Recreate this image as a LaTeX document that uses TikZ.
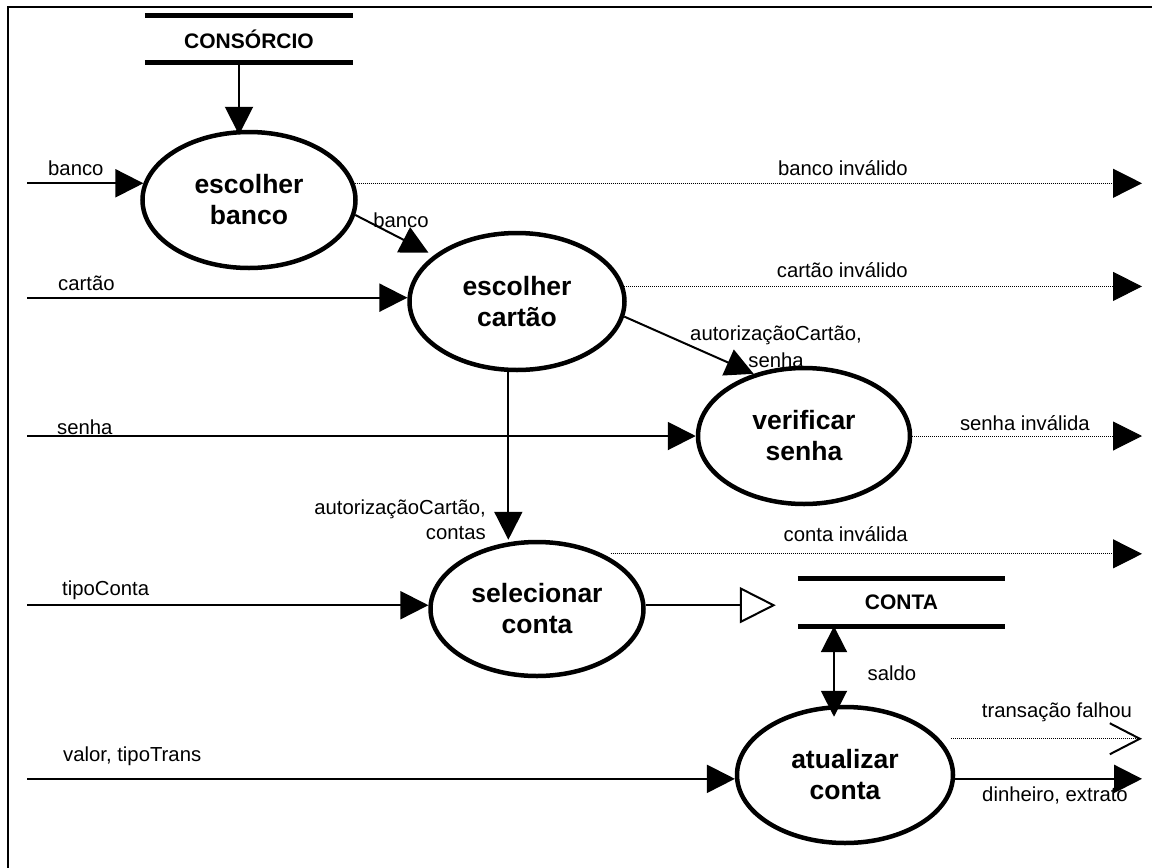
\documentclass[tikz,border=0pt]{standalone}
\usepackage{fontspec}
\setmainfont{Liberation Sans}
\usetikzlibrary{arrows.meta,shapes.geometric}

\begin{document}
\begin{tikzpicture}[x=1pt,y=-1pt,
  proc/.style={ellipse, draw, line width=4.5pt, inner sep=0pt,
    minimum width=213pt, minimum height=136pt, align=center,
    font=\fontsize{26.5}{31}\selectfont\bfseries},
  store/.style={inner sep=0pt, minimum width=208pt, minimum height=47pt,
    font=\fontsize{21}{25}\selectfont\bfseries},
  storeline/.style={line width=5pt},
  flow/.style={line width=2pt, -{Triangle[length=28pt,width=28pt]}},
  both/.style={line width=2pt, {Triangle[length=26pt,width=26pt]}-{Triangle[length=26pt,width=26pt]}},
  reject/.style={line width=1pt, dash pattern=on 1pt off 1pt,
    -{Triangle[length=29pt,width=29pt]}},
  failed/.style={line width=1pt, dash pattern=on 1pt off 1pt,
    -{Straight Barb[length=30pt,width=31pt,line width=2pt]}},
  update/.style={line width=2pt, -{Triangle[open,length=36pt,width=36pt]}},
  lbl/.style={inner sep=0pt, font=\fontsize{20.3}{26}\selectfont},
]
\useasboundingbox (0,0) rectangle (1152,868);

% frame
\draw[line width=2pt] (8,868) -- (8,7) -- (1152,7);

% data stores
\node[store] (cons) at (249,39) {CONSÓRCIO};
\draw[storeline] (cons.north west) -- (cons.north east)
                 (cons.south west) -- (cons.south east);
\node[store, minimum width=207pt] (conta) at (901.5,602.5) {CONTA};
\draw[storeline] (conta.north west) -- (conta.north east)
                 (conta.south west) -- (conta.south east);

% processes
\node[proc] (e1) at (249,200) {escolher\\banco};
\node[proc, minimum width=215pt, minimum height=137pt] (e2) at (517,301.5) {escolher\\cartão};
\node[proc, minimum width=212pt] (e3) at (804,436) {verificar\\senha};
\node[proc, minimum height=134pt] (e4) at (537,609) {selecionar\\conta};
\node[proc, minimum width=216pt] (e5) at (845,775) {atualizar\\conta};

% margins for external flows
\coordinate (inX) at (27,0);
\coordinate (outX) at (1142,0);

% flows
\draw[flow] ([xshift=-10pt]cons.south) -- ([xshift=-10pt,yshift=-5pt]e1.north);
\draw[flow] (inX |- e1.171) -- (e1.171);
\draw[reject] (e1.9) -- (e1.9 -| outX);
\draw[flow, shorten >=6pt] (e1.-8) -- (e2.151);

\draw[flow] (inX |- e2.178) -- (e2.178);
\draw[reject] (e2.8) -- (e2.8 -| outX);
\draw[flow] (e2.-8) -- (e3.129);
\draw[flow] (e2.-97) -- (e2.-97 |- e4.north);

\draw[flow] (inX |- e3.west) -- (e3.west);
\draw[reject] (e3.east) -- (e3.east -| outX);

\draw[flow] (inX |- e4.178) -- (e4.178);
\draw[reject, shorten <=8pt] (e4.40) -- (e4.40 -| outX);
\draw[update, shorten >=22pt] (e4.2) -- (e4.2 -| conta.west);

\draw[both] ([xshift=-67.5pt]conta.south) -- ([xshift=-11pt,yshift=-12pt]e5.north);

\draw[flow] (inX |- e5.182) -- (e5.182);
\draw[failed, shorten <=12pt] (e5.21) -- (e5.21 -| outX);
\draw[flow] (e5.-2) -- (e5.-2 -| outX);

% flow labels
\node[lbl, anchor=west] (l1) at (48,168) {banco};
\node[lbl] (l2) at (401,220) {banco};
\node[lbl, anchor=east] (l3) at (908,168) {banco inválido};
\node[lbl, anchor=west] (l4) at (58,283) {cartão};
\node[lbl, anchor=east] (l5) at (908,270) {cartão inválido};
\node[lbl, align=center, font=\fontsize{20.3}{27}\selectfont] (l6) at (776,347) {autorizaçãoCartão,\\senha};
\node[lbl, anchor=west] (l7) at (57,427) {senha};
\node[lbl, anchor=east] (l8) at (1090,423) {senha inválida};
\node[lbl, align=right, anchor=east, font=\fontsize{20.3}{25}\selectfont] (l9) at (486,520) {autorizaçãoCartão,\\contas};
\node[lbl, anchor=east] (l10) at (908,534) {conta inválida};
\node[lbl, anchor=west] (l11) at (62,590) {tipoConta};
\node[lbl] (l12) at (892,673) {saldo};
\node[lbl] (l13) at (1057,712) {transação falhou};
\node[lbl, anchor=west] (l14) at (63,756) {valor, tipoTrans};
\node[lbl] (l15) at (1055,795) {dinheiro, extrato};
\end{tikzpicture}
\end{document}
